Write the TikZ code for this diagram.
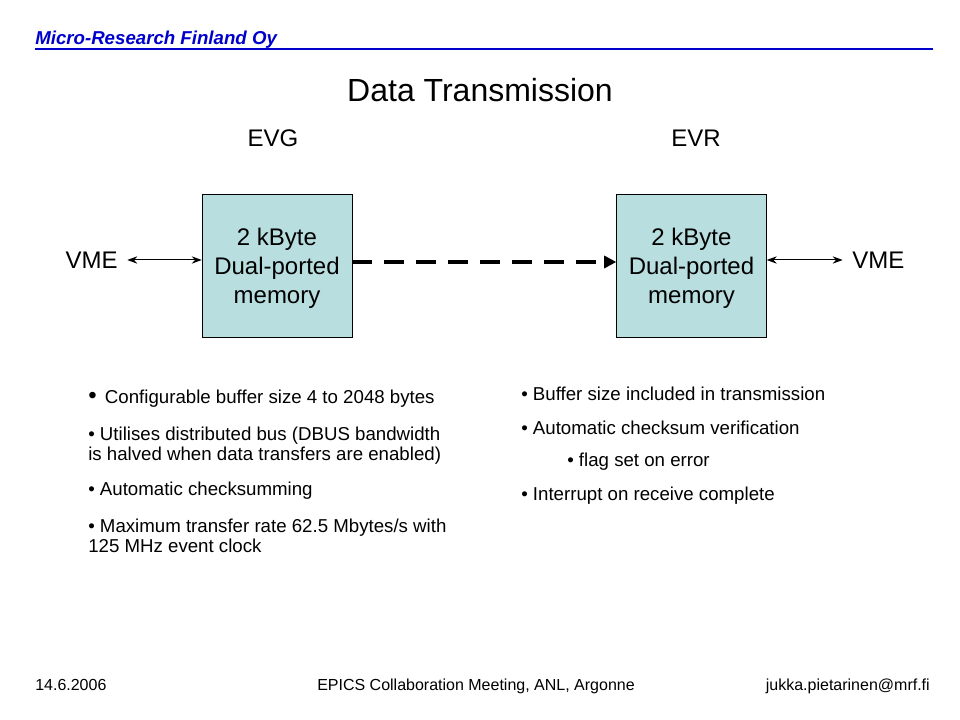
\documentclass[tikz,border=0pt]{standalone}
\usepackage{fontspec}
\setmainfont{Liberation Sans}
\usetikzlibrary{arrows.meta}
\definecolor{mrfblue}{RGB}{0,0,204}
\definecolor{memcyan}{RGB}{184,222,224}
\begin{document}
\begin{tikzpicture}[x=0.75pt,y=-0.75pt,
  mem/.style={draw,fill=memcyan,minimum width=112.5pt,minimum height=107.25pt,align=center,font=\fontsize{18}{21.7}\selectfont},
  lbl/.style={font=\fontsize{18}{21.5}\selectfont,inner sep=0pt},
  vme/.style={{Stealth[length=7.5pt,width=5.5pt]}-{Stealth[length=7.5pt,width=5.5pt]},line width=0.75pt},
  bul/.style={anchor=west,inner sep=0pt,align=left,font=\fontsize{14}{15}\selectfont},
  foot/.style={inner sep=0pt,font=\fontsize{12}{14}\selectfont}]
\useasboundingbox (0,0) rectangle (960,720);
% Header and title
\node[anchor=base west,inner sep=0pt,text=mrfblue,font=\fontsize{14}{16}\selectfont\bfseries\itshape] (firm) at (35,45) {Micro-Research Finland Oy};
\draw[mrfblue,line width=1.5pt] (35,49) -- (933,49);
\node[inner sep=0pt,font=\fontsize{24}{28}\selectfont] (title) at (480,90) {Data Transmission};
\node[lbl] (evg) at (273,138) {EVG};
\node[lbl] (evr) at (696,138) {EVR};
% Memories and links
\node[mem] (memg) at (277,265.5) {\rule{0pt}{17.6pt}2 kByte\\Dual-ported\\memory};
\node[mem] (memr) at (691.5,265.5) {\rule{0pt}{17.6pt}2 kByte\\Dual-ported\\memory};
\node[lbl,anchor=east] (vmel) at (118,260) {VME};
\node[lbl,anchor=west] (vmer) at (852,260) {VME};
\draw[vme] ([xshift=7pt]vmel.east) -- (vmel.east -| memg.west);
\draw[vme] (memr.east |- vmer.west) -- ([xshift=-7pt]vmer.west);
\draw[-{Triangle[length=9pt,width=9pt]},line width=3pt,dash pattern=on 15pt off 9pt] (memg.east |- 0,262) -- (memr.west |- 0,262);
% EVG features
\node[bul] (g1) at (88,399) {{\fontsize{18}{15}\selectfont•}\, Configurable buffer size 4 to 2048 bytes};
\node[bul] (g2) at (88,446) {• Utilises distributed bus (DBUS bandwidth\\is halved when data transfers are enabled)};
\node[bul] (g3) at (88,491) {• Automatic checksumming};
\node[bul] (g4) at (88,536) {• Maximum transfer rate 62.5 Mbytes/s with\\125 MHz event clock};
% EVR features
\node[bul] (r1) at (521,394) {• Buffer size included in transmission};
\node[bul] (r2) at (521,428) {• Automatic checksum verification};
\node[bul] (r3) at (567,462) {• flag set on error};
\node[bul] (r4) at (521,496) {• Interrupt on receive complete};
% Footer
\node[foot,anchor=base west] (date) at (35,690) {14.6.2006};
\node[foot,anchor=base] (meet) at (476,690) {EPICS Collaboration Meeting, ANL, Argonne};
\node[foot,anchor=base east] (mail) at (930,690) {jukka.pietarinen@mrf.fi};
\end{tikzpicture}
\end{document}
